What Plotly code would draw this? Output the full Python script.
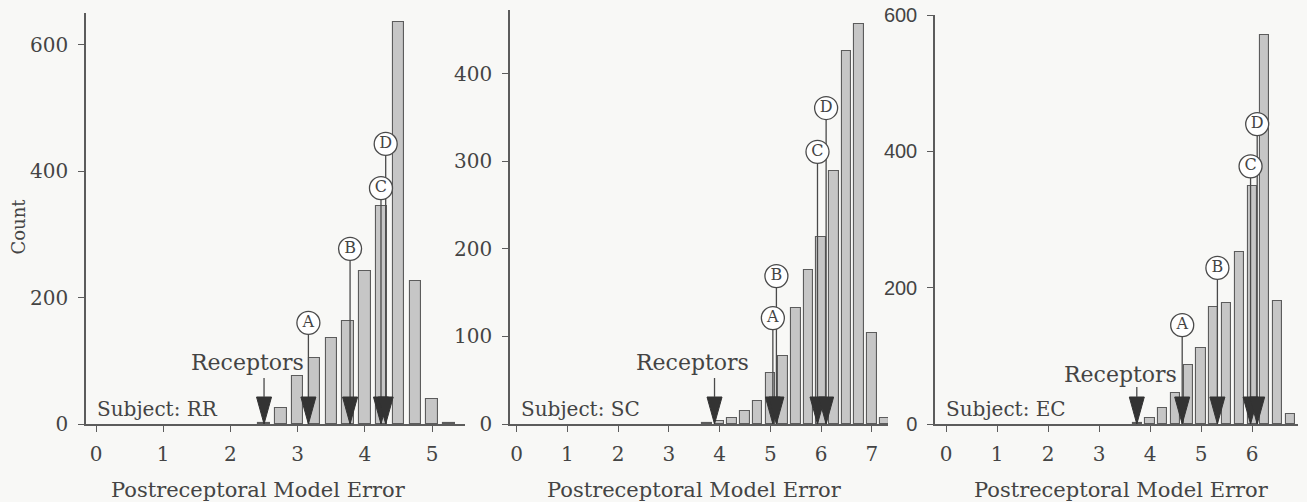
import plotly.graph_objects as go

# ---------------- data ----------------
subjects = ["RR", "SC", "EC"]

bins_rr = [2.5, 2.75, 3.0, 3.25, 3.5, 3.75, 4.0, 4.25, 4.5, 4.75, 5.0, 5.25]
counts_rr = [2, 25, 76, 104, 136, 163, 242, 345, 635, 226, 40, 2]

bins_sc = [3.75, 4.0, 4.25, 4.5, 4.75, 5.0, 5.25, 5.5, 5.75, 6.0, 6.25, 6.5, 6.75, 7.0, 7.25]
counts_sc = [1, 3, 7, 15, 26, 58, 78, 132, 176, 214, 289, 426, 457, 104, 7]

bins_ec = [3.75, 4.0, 4.25, 4.5, 4.75, 5.0, 5.25, 5.5, 5.75, 6.0, 6.25, 6.5, 6.75]
counts_ec = [1, 9, 23, 45, 87, 112, 172, 177, 253, 349, 571, 180, 14]

receptor_error = [2.5, 3.9, 3.74]

model_labels = ["A", "B", "C", "D"]
model_err_rr = [3.16, 3.78, 4.24, 4.31]
model_err_sc = [5.05, 5.12, 5.93, 6.10]
model_err_ec = [4.63, 5.32, 5.97, 6.10]

# heights (in counts) at which the circled labels sit
label_y_rr = [160, 277, 373, 443]
label_y_sc = [121, 169, 311, 361]
label_y_ec = [145, 229, 378, 440]

x_ticks_rr = [0, 1, 2, 3, 4, 5]
x_ticks_sc = [0, 1, 2, 3, 4, 5, 6, 7]
x_ticks_ec = [0, 1, 2, 3, 4, 5, 6]
y_ticks_rr = [0, 200, 400, 600]
y_ticks_sc = [0, 100, 200, 300, 400]
y_ticks_ec = [0, 200, 400, 600]

# ---------------- style ----------------
W, H = 1307, 502
BG = "#f8f8f6"
FILL = "#c6c6c6"
EDGE = "#5c5c5c"
INK = "#444444"
DARK = "#333333"
SERIF = "DejaVu Serif"

panels = [
    dict(bins=bins_rr, counts=counts_rr, err=model_err_rr, ly=label_y_rr,
         xt=x_ticks_rr, yt=y_ticks_rr, rec=receptor_error[0], subj=subjects[0],
         px=(86, 465), py=(13, 424), xr=[-0.149, 5.49], yr=[0, 650], bw=0.17,
         rec_dx=-17, rec_text_y=62, rec_line=(27, 46), yfont=SERIF, title_x=258),
    dict(bins=bins_sc, counts=counts_sc, err=model_err_sc, ly=label_y_sc,
         xt=x_ticks_sc, yt=y_ticks_sc, rec=receptor_error[1], subj=subjects[1],
         px=(510, 888), py=(10, 424), xr=[-0.132, 7.32], yr=[0, 473], bw=0.19,
         rec_dx=-22, rec_text_y=62, rec_line=(27, 46), yfont=SERIF, title_x=694),
    dict(bins=bins_ec, counts=counts_ec, err=model_err_ec, ly=label_y_ec,
         xt=x_ticks_ec, yt=y_ticks_ec, rec=receptor_error[2], subj=subjects[2],
         px=(935, 1298), py=(15, 424), xr=[-0.216, 6.90], yr=[0, 600], bw=0.18,
         rec_dx=-16, rec_text_y=50, rec_line=(27, 37), yfont="Liberation Sans", title_x=1121),
]

fig = go.Figure()
shapes = []
annotations = []
layout_axes = {}

TRI_W, TRI_H = 15, 27

for i, p in enumerate(panels):
    n = "" if i == 0 else str(i + 1)
    xa, ya = "x" + n, "y" + n

    fig.add_trace(go.Bar(
        x=p["bins"], y=p["counts"], width=p["bw"], xaxis=xa, yaxis=ya,
        marker=dict(color=FILL, line=dict(color=EDGE, width=1.1)),
        showlegend=False, hoverinfo="skip"))

    # vertical leader lines for model labels
    lx, lyy = [], []
    for xv, yv in zip(p["err"], p["ly"]):
        lx += [xv, xv, None]
        lyy += [0, yv, None]
    fig.add_trace(go.Scatter(
        x=lx, y=lyy, mode="lines", xaxis=xa, yaxis=ya,
        line=dict(color="#4a4a4a", width=1.3), showlegend=False, hoverinfo="skip"))

    # circled letters
    fig.add_trace(go.Scatter(
        x=p["err"], y=p["ly"], mode="markers+text", text=model_labels,
        textposition="middle center", xaxis=xa, yaxis=ya,
        textfont=dict(family=SERIF, size=16, color=INK),
        marker=dict(symbol="circle", size=23, color="white",
                    line=dict(color="#4a4a4a", width=1.3)),
        showlegend=False, hoverinfo="skip", cliponaxis=False))

    # arrowheads (receptors + models)
    for xv in [p["rec"]] + p["err"]:
        shapes.append(dict(
            type="path", xref=xa, yref=ya, xsizemode="pixel", ysizemode="pixel",
            xanchor=xv, yanchor=0, layer="above",
            path=f"M{-TRI_W/2},{TRI_H} L{TRI_W/2},{TRI_H} L0,0 Z",
            fillcolor=DARK, line=dict(color=DARK, width=1)))
    # receptor leader
    shapes.append(dict(
        type="line", xref=xa, yref=ya, xsizemode="pixel", ysizemode="pixel",
        xanchor=p["rec"], yanchor=0, x0=0, x1=0,
        y0=p["rec_line"][0], y1=p["rec_line"][1],
        line=dict(color="#4a4a4a", width=1.3)))
    annotations.append(dict(
        text="Receptors", x=p["rec"], y=0, xref=xa, yref=ya, showarrow=False,
        xanchor="center", yanchor="middle", xshift=p["rec_dx"], yshift=p["rec_text_y"],
        font=dict(family=SERIF, size=22, color=INK)))

    # Subject label
    annotations.append(dict(
        text=f"Subject: {p['subj']}", x=0.025, y=15 / (p["py"][1] - p["py"][0]),
        xref=xa + " domain", yref=ya + " domain", showarrow=False,
        xanchor="left", yanchor="middle",
        font=dict(family=SERIF, size=20, color=INK)))

    # x title
    annotations.append(dict(
        text="Postreceptoral Model Error", x=p["title_x"] / W, y=1 - 490 / H,
        xref="paper", yref="paper", showarrow=False, xanchor="center", yanchor="middle",
        font=dict(family=SERIF, size=21, color=INK)))

    axis_common = dict(showline=True, linecolor=EDGE, linewidth=1.5, ticks="outside",
                       ticklen=6, tickcolor=EDGE, tickwidth=1.3, showgrid=False,
                       zeroline=False, fixedrange=True, automargin=False)
    layout_axes["xaxis" + n] = dict(
        domain=[p["px"][0] / W, p["px"][1] / W], range=p["xr"], anchor=ya,
        tickvals=p["xt"], tickfont=dict(family=SERIF, size=20, color=INK),
        ticklabelstandoff=5, **axis_common)
    layout_axes["yaxis" + n] = dict(
        domain=[1 - p["py"][1] / H, 1 - p["py"][0] / H], range=p["yr"], anchor=xa,
        tickvals=p["yt"], tickfont=dict(family=p["yfont"], size=20, color=INK),
        ticklabelstandoff=6, **axis_common)

annotations.append(dict(
    text="Count", x=17.5 / W, y=1 - 227 / H, xref="paper", yref="paper",
    showarrow=False, textangle=-90, xanchor="center", yanchor="middle",
    font=dict(family=SERIF, size=18, color=INK)))

fig.update_layout(
    template="none",
    width=W, height=H, margin=dict(l=0, r=0, t=0, b=0, pad=0), autosize=False,
    paper_bgcolor=BG, plot_bgcolor=BG, bargap=0,
    shapes=shapes, annotations=annotations, **layout_axes)

fig.write_html("out.html", config={"displayModeBar": False, "responsive": False},
               post_script="document.body.style.margin='0';document.body.style.overflow='hidden';")
